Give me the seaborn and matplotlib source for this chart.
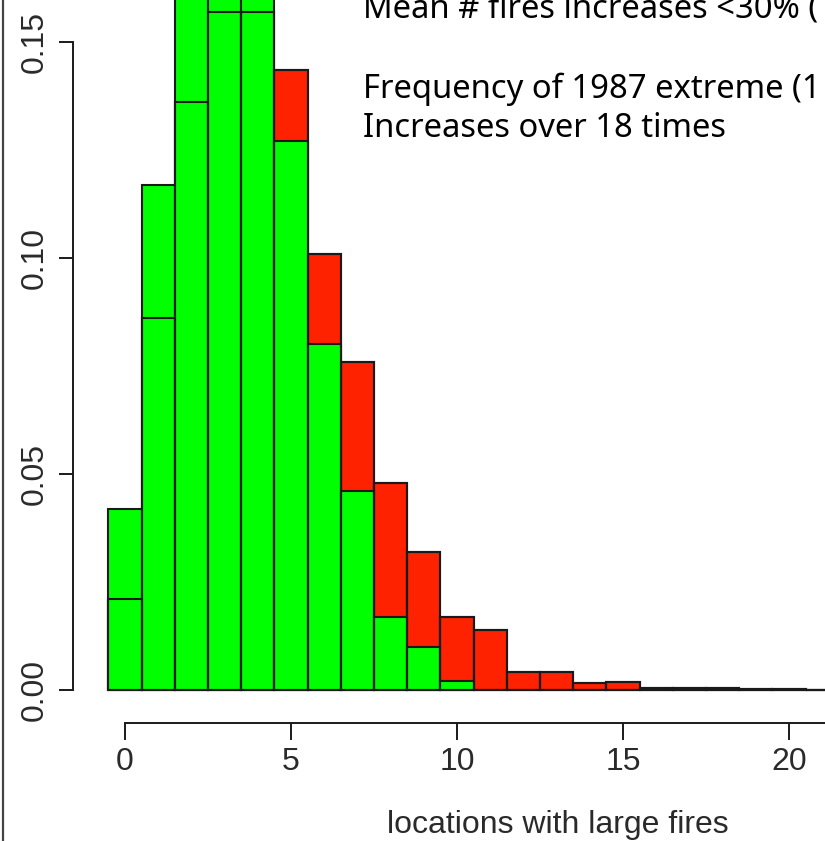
import numpy as np
import pandas as pd
import matplotlib
matplotlib.use("Agg")
import matplotlib.pyplot as plt
import seaborn as sns
from matplotlib.lines import Line2D

# ---------------- data ----------------
locations = list(range(27))
current_density = [0.042, 0.117, 0.180, 0.191, 0.185, 0.127, 0.080, 0.046, 0.017,
                   0.010, 0.002, 0.0, 0.0, 0.0, 0.0, 0.0, 0.0, 0.0, 0.0, 0.0,
                   0.0, 0.0, 0.0, 0.0, 0.0, 0.0, 0.0]
future_density = [0.021, 0.086, 0.136, 0.157, 0.157, 0.1435, 0.101, 0.076, 0.048,
                  0.032, 0.017, 0.014, 0.0042, 0.0042, 0.0016, 0.0019, 0.0004,
                  0.0005, 0.0005, 0.0003, 0.0002, 0.0001, 0.0, 0.0, 0.0, 0.0, 0.0]
x_ticks = [0, 5, 10, 15, 20, 25]
y_ticks = [0.00, 0.05, 0.10, 0.15]
x_label = "locations with large fires"
notes = ["Mean # fires increases <30% (",
         "Frequency of 1987 extreme (1",
         "Increases over 18 times"]

# ---------------- style ----------------
sns.set_style("ticks")
plt.rcParams["font.family"] = ["Liberation Sans", "DejaVu Sans"]

GREEN = "#00ff00"
RED = "#ff2200"
EDGE = "#1a1a1a"
TXT = "#2a2a2a"

W, H = 825, 841
fig = plt.figure(figsize=(W / 100, H / 100), dpi=100)
fig.patch.set_facecolor("white")

# pixel geometry of the (partly cropped) plot region
sx, x0 = 33.2, 125.0       # px per unit, px of x=0
sy, y0 = 4320.0, 690.0     # px per density unit, px of y=0
ymax = max(current_density)
xlim = (-1.58, 27.58)
ylim = (-0.04 * ymax, 1.04 * ymax)
left_px = x0 + xlim[0] * sx
width_px = (xlim[1] - xlim[0]) * sx
bottom_px = y0 - ylim[0] * sy            # from top
height_px = (ylim[1] - ylim[0]) * sy
ax = fig.add_axes([left_px / W, (H - bottom_px) / H, width_px / W, height_px / H])
ax.patch.set_alpha(0)

df = pd.DataFrame({"loc": locations, "current": current_density, "future": future_density})
brange = (-0.5, len(locations) - 0.5)

sns.histplot(data=df, x="loc", weights="future", binwidth=1, binrange=brange,
             color=RED, alpha=1, edgecolor=EDGE, linewidth=1.5, ax=ax)
sns.histplot(data=df, x="loc", weights="current", binwidth=1, binrange=brange,
             color=GREEN, alpha=1, edgecolor=EDGE, linewidth=1.5, ax=ax)
sns.histplot(data=df, x="loc", weights="future", binwidth=1, binrange=brange,
             fill=False, color=EDGE, linewidth=1.5, ax=ax)

ax.set_xlim(xlim)
ax.set_ylim(ylim)
sns.despine(ax=ax)
ax.spines["left"].set_bounds(0, 0.15)
ax.spines["bottom"].set_bounds(0, 25)
for s in ("left", "bottom"):
    ax.spines[s].set_linewidth(1.4)
    ax.spines[s].set_color(EDGE)

ax.set_xticks(x_ticks)
ax.set_xticklabels([str(v) for v in x_ticks])
ax.set_yticks(y_ticks)
ax.set_yticklabels([f"{v:.2f}" for v in y_ticks], rotation=90, va="center")
ax.tick_params(axis="both", direction="out", width=1.4, color=EDGE,
               labelsize=23, labelcolor=TXT)
ax.tick_params(axis="x", length=12, pad=5)
ax.tick_params(axis="y", length=10, pad=6.5)
ax.set_ylabel("")
ax.set_xlabel(x_label, fontsize=23, color=TXT)
ax.xaxis.label.set_va("baseline")
label_base_px = 833
ax.xaxis.set_label_coords((558 - left_px) / width_px,
                          ((H - label_base_px) - (H - bottom_px)) / height_px)

# left frame line of the cropped figure
fig.add_artist(Line2D([2.5 / W, 2.5 / W], [0, 1], transform=fig.transFigure,
                      color="#444444", lw=1.6))

# annotation text, size fitted to the measured line width
fig.canvas.draw()
renderer = fig.canvas.get_renderer()
probe = fig.text(0, 0, notes[2], family=["Noto Sans", "DejaVu Sans"], fontsize=24)
fs = 24 * 365.0 / probe.get_window_extent(renderer).width
probe.remove()
for txt, base in zip(notes, [17, 98, 137]):
    fig.text(363 / W, (H - base) / H, txt, family=["Noto Sans", "DejaVu Sans"],
             fontsize=fs, color="black", ha="left", va="baseline")

fig.savefig("out.png", dpi=100)
